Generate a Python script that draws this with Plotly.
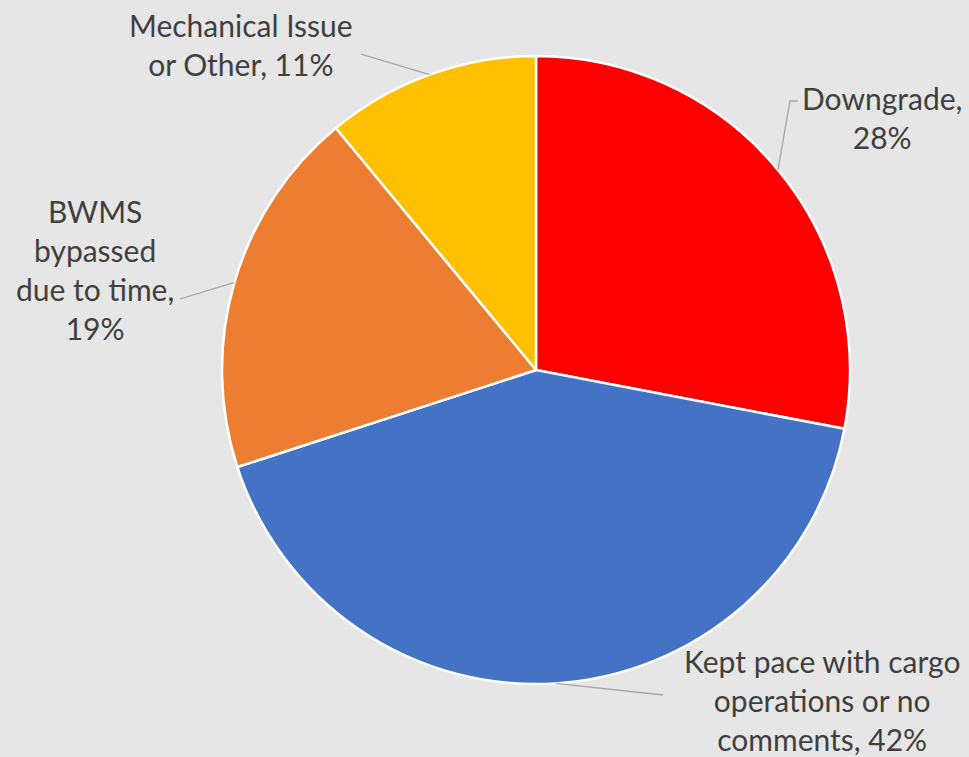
import math
import plotly.graph_objects as go

categories = ["Downgrade", "Kept pace with cargo operations or no comments",
              "BWMS bypassed due to time", "Mechanical Issue or Other"]
values = [28, 42, 19, 11]
label_texts = ["Downgrade,<br>28%",
               "Kept pace with cargo<br>operations or no<br>comments, 42%",
               "BWMS<br>bypassed<br>due to time,<br>19%",
               "Mechanical Issue<br>or Other, 11%"]
colors = ["#FF0000", "#4472C4", "#ED7D31", "#FFC000"]

W, H = 969, 757
ML, MR, MT, MB = 222, 119, 56, 73
PW, PH = W - ML - MR, H - MT - MB
CX, CY = ML + PW / 2, MT + PH / 2
R = min(PW, PH) / 2


def px2paper(x, y):
    return (x - ML) / PW, (H - MB - y) / PH


fig = go.Figure(go.Pie(
    labels=categories, values=values, sort=False, direction="clockwise",
    rotation=0, marker=dict(colors=colors, line=dict(color="white", width=2.5)),
    textinfo="none", hoverinfo="label+percent", showlegend=False,
))

# label text positions (pixels) and leader-line elbow/end points
label_pos = [(882, 118), (822, 700), (95, 269), (241, 44)]
leader_pts = [[(790, 101), (798, 101)], [(663, 695)], [(180, 299)], [(361, 54)]]

total = sum(values)
cum = 0
font = dict(family="Lato, Open Sans, sans-serif", size=30, color="#404040")
for v, txt, pos, pts in zip(values, label_texts, label_pos, leader_pts):
    mid = (cum + v / 2) / total * 2 * math.pi
    cum += v
    sx = CX + R * math.sin(mid)
    sy = CY - R * math.cos(mid)
    path_pts = [(sx, sy)] + pts
    path = ""
    for i, (x, y) in enumerate(path_pts):
        xp, yp = px2paper(x, y)
        path += ("M" if i == 0 else " L") + f"{xp:.5f},{yp:.5f}"
    fig.add_shape(type="path", path=path, xref="paper", yref="paper",
                  line=dict(color="#A6A6A6", width=1.3))
    ax, ay = px2paper(*pos)
    fig.add_annotation(x=ax, y=ay, xref="paper", yref="paper", text=txt,
                       showarrow=False, xanchor="center", yanchor="middle",
                       align="center", font=font)

fig.update_layout(
    width=W, height=H, paper_bgcolor="#E7E6E6", plot_bgcolor="#E7E6E6",
    margin=dict(l=ML, r=MR, t=MT, b=MB, autoexpand=False),
)
fig.write_html(
    "out.html",
    config={"displayModeBar": False},
    post_script="document.body.style.margin='0';document.body.style.overflow='hidden';"
)
